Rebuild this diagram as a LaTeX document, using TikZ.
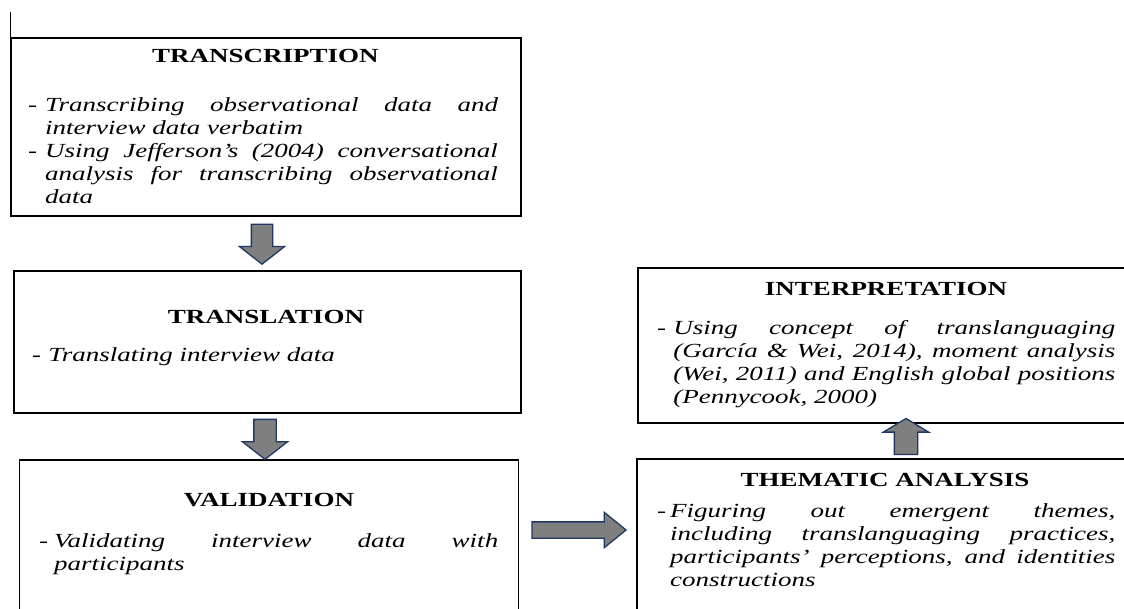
\documentclass[tikz,border=0pt]{standalone}
\usepackage{fontspec}
\setmainfont{Liberation Serif}
\usetikzlibrary{shapes.arrows}
\definecolor{arrowfill}{HTML}{7F7F7F}
\definecolor{arrowline}{HTML}{1F3864}
\newcommand\hsx[1]{\scalebox{1.35}[1]{#1}}
\newcommand\bitem[2]{\par\hangindent=#1\hangafter=1\noindent\makebox[#1][l]{-}\textit{#2}}
\newcommand\bodybox[2]{\hsx{\parbox[t]{#1}{\fontsize{20}{23}\selectfont\tolerance=9999\hbadness=10000\emergencystretch=0pt #2}}}
\newcommand\ttltext[1]{\hsx{\fontsize{20}{23}\selectfont\bfseries #1}}
\begin{document}
\begin{tikzpicture}[x=1pt,y=-1pt,
  box/.style={draw=black,line width=1.9pt,rectangle,inner sep=0pt,anchor=north west},
  ttl/.style={anchor=base,inner sep=0pt},
  body/.style={anchor=base west,inner sep=0pt},
  blockarrow/.style={single arrow,draw=arrowline,fill=arrowfill,line width=1.3pt,
    inner xsep=0pt,single arrow head indent=0pt}]
\useasboundingbox (0,0) rectangle (1124,609);
\clip (0,0) rectangle (1124,609);
\fill[white] (0,0) rectangle (1124,609);
% boxes
\node[box,minimum width=510pt,minimum height=178pt] (tr) at (10,37) {};
\node[box,minimum width=507pt,minimum height=142pt] (tl) at (13,270) {};
\node[box,minimum width=499pt,minimum height=200pt] (va) at (18.5,459) {};
\node[box,minimum width=500pt,minimum height=200pt] (th) at (636,458) {};
\node[box,minimum width=500pt,minimum height=155pt] (in) at (637,267) {};
% stray mark
\coordinate (mk) at (10,12);
\draw[line width=0.9pt] (mk) -- (tr.north west);
% titles
\node[ttl] (trt) at (265.5,63) {\ttltext{TRANSCRIPTION}};
\node[ttl] (tlt) at (266,324) {\ttltext{TRANSLATION}};
\node[ttl] (vat) at (269,506) {\ttltext{VALIDATION}};
\node[ttl] (tht) at (885,486) {\ttltext{THEMATIC ANALYSIS}};
\node[ttl] (int) at (886,296) {\ttltext{INTERPRETATION}};
% bodies
\node[body] (trb) at (28,111.7) {\bodybox{348pt}{%
  \bitem{12.6pt}{Transcribing observational data and\linebreak interview data verbatim}%
  \bitem{12.6pt}{Using Jefferson’s (2004) conversational\linebreak analysis for transcribing observational\linebreak data}}};
\node[body] (tlb) at (32,362) {\bodybox{348pt}{%
  \bitem{11.9pt}{Translating interview data}}};
\node[body] (vab) at (39,547) {\bodybox{340pt}{%
  \bitem{11.1pt}{Validating interview data with\linebreak participants}}};
\node[body] (inb) at (657,335) {\bodybox{339.3pt}{%
  \bitem{11.9pt}{Using concept of translanguaging\linebreak (García \& Wei, 2014), moment analysis\linebreak (Wei, 2011) and English global positions\linebreak (Pennycook, 2000)}}};
\node[body] (thb) at (657,517) {\bodybox{339.3pt}{%
  \bitem{9.6pt}{Figuring out emergent themes,\linebreak including translanguaging practices,\linebreak participants’ perceptions, and identities\linebreak constructions}}};
% arrows
\node[blockarrow,rotate=-90,minimum height=40pt,minimum width=44pt,inner ysep=10pt,
  single arrow head extend=12pt,single arrow tip angle=104] (a1) at (262,240) {};
\node[blockarrow,rotate=-90,minimum height=40pt,minimum width=44pt,inner ysep=10.5pt,
  single arrow head extend=11.5pt,single arrow tip angle=104] (a2) at (265,435) {};
\node[blockarrow,minimum height=94pt,minimum width=34pt,inner ysep=7.5pt,
  single arrow head extend=9.5pt,single arrow tip angle=78] (a3) at (574,530) {};
\node[blockarrow,rotate=90,minimum height=36pt,minimum width=44pt,inner ysep=11pt,
  single arrow head extend=11pt,single arrow tip angle=118] (a4) at (906,440) {};
\end{tikzpicture}
\end{document}
